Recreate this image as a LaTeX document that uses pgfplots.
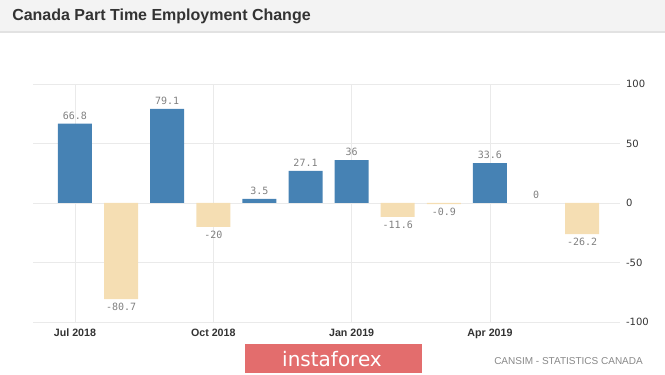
\documentclass[border=0pt]{standalone}
\usepackage{pgfplots}
\pgfplotsset{compat=1.18}
\usepackage{fontspec}
\setmainfont{Liberation Sans}
\newfontfamily\dejavu{DejaVu Sans}
\newfontfamily\mono{DejaVu Sans Mono}
\definecolor{barblue}{HTML}{4682B4}
\definecolor{barwheat}{HTML}{F5DEB3}
\definecolor{titlebg}{HTML}{F3F3F3}
\definecolor{titleline}{HTML}{E2E2E2}
\definecolor{titlecol}{HTML}{333333}
\definecolor{gridgray}{HTML}{EAEAEA}
\definecolor{valcol}{HTML}{808080}
\definecolor{tickcol}{HTML}{333333}
\definecolor{instared}{HTML}{E36D6D}
\definecolor{srccol}{HTML}{888888}
\begin{document}
\begin{tikzpicture}
\path[use as bounding box] (0,0) rectangle (498.75pt,281.25pt);
\fill[titlebg] (0,257.25pt) rectangle (498.75pt,281.25pt);
\draw[titleline, line width=1pt] (0,257.25pt) -- (498.75pt,257.25pt);
\node[anchor=base west, font=\bfseries\fontsize{12}{14}\selectfont, text=titlecol, inner sep=0pt] at (9pt,265.5pt) {Canada Part Time Employment Change};
\begin{axis}[
  at={(24.75pt,39.75pt)}, anchor=south west,
  scale only axis, width=440.25pt, height=178.5pt,
  xmin=-0.91, xmax=11.82, ymin=-100, ymax=100,
  ybar, bar width=25.5pt, bar shift=0pt,
  xtick={0,3,6,9}, xticklabels={Jul 2018,Oct 2018,Jan 2019,Apr 2019},
  ytick={-100,-50,0,50,100}, yticklabel pos=right,
  grid=major, grid style={gridgray, line width=0.6pt},
  axis line style={draw=none}, major tick style={draw=none},
  xticklabel style={font=\bfseries\fontsize{8}{9}\selectfont, text=tickcol, yshift=2.5pt},
  yticklabel style={font=\dejavu\fontsize{7.5}{9}\selectfont, text=tickcol, anchor=west, xshift=1pt},
  /pgf/number format/assume math mode=true,
  clip=false,
  point meta=explicit symbolic,
  nodes near coords,
  nodes near coords style={font=\mono\fontsize{7.5}{9}\selectfont, text=valcol, inner sep=3pt},
]
\addplot[fill=barblue, draw=none] coordinates {
  (0,66.8) [66.8]
  (2,79.1) [79.1]
  (4,3.5) [3.5]
  (5,27.1) [27.1]
  (6,36) [36]
  (9,33.6) [33.6]
};
\addplot[fill=none, draw=none] coordinates {
  (10,0) [0]
};
\addplot[fill=barwheat, draw=none, every node near coord/.append style={anchor=north}] coordinates {
  (1,-80.7) [-80.7]
  (3,-20) [-20]
  (7,-11.6) [-11.6]
  (8,-0.9) [-0.9]
  (11,-26.2) [-26.2]
};
\end{axis}
\fill[instared] (183.75pt,1.5pt) rectangle (316.5pt,23.25pt);
\node[font=\dejavu\fontsize{15}{17}\selectfont, text=white, inner sep=0pt] at (249pt,12pt) {instaforex};
\node[anchor=west, font=\fontsize{7.5}{9}\selectfont, text=srccol, inner sep=0pt] at (370.5pt,10.5pt) {CANSIM - STATISTICS CANADA};
\end{tikzpicture}
\end{document}
